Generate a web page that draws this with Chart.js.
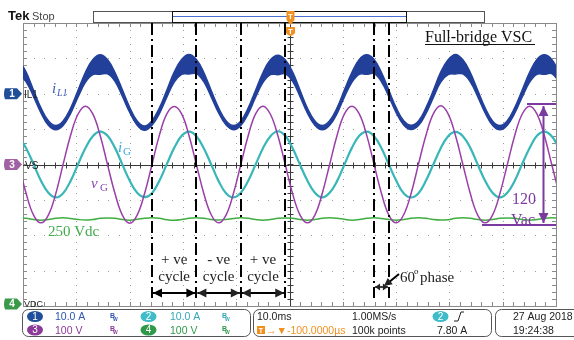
<!DOCTYPE html>
<html>
<head>
<meta charset="utf-8">
<script src="https://cdn.jsdelivr.net/npm/chart.js@4.4.0/dist/chart.umd.min.js"></script>
<style>
  html, body { margin: 0; padding: 0; background: #fff; }
  #wrap { width: 574px; height: 340px; }
</style>
</head>
<body>
<div id="wrap"><canvas id="scope" width="574" height="340"></canvas></div>
<script>
'use strict';

// sample times in ms (screen is -50..50 ms, 10 ms/div), one sample per 30 deg of the 60 Hz grid
var timeMs = [
  -50.80, -49.41, -48.02, -46.63, -45.24, -43.86, -42.47, -41.08, -39.69, -38.30, -36.91, -35.52,
  -34.13, -32.74, -31.36, -29.97, -28.58, -27.19, -25.80, -24.41, -23.02, -21.63, -20.24, -18.86,
  -17.47, -16.08, -14.69, -13.30, -11.91, -10.52, -9.13, -7.74, -6.36, -4.97, -3.58, -2.19,
  -0.80, 0.59, 1.98, 3.37, 4.76, 6.14, 7.53, 8.92, 10.31, 11.70, 13.09, 14.48,
  15.87, 17.26, 18.64, 20.03, 21.42, 22.81, 24.20, 25.59, 26.98, 28.37, 29.76, 31.14,
  32.53, 33.92, 35.31, 36.70, 38.09, 39.48, 40.87, 42.26, 43.64, 45.03, 46.42, 47.81,
  49.20, 50.59
];

// ch3 grid voltage vG (V)
var vG = [
  0, -82, -143, -165, -143, -83, 1, 82, 142, 165, 143, 82,
  -1, -82, -143, -166, -143, -82, 0, 83, 143, 164, 143, 82,
  0, -82, -142, -165, -143, -82, 0, 82, 143, 165, 142, 82,
  0, -83, -143, -165, -143, -82, 0, 82, 143, 165, 143, 83,
  0, -82, -143, -165, -142, -82, 1, 82, 143, 166, 143, 82,
  0, -82, -143, -165, -143, -82, 0, 82, 142, 165, 143, 82,
  0, -82
];

// ch2 grid current iG (A)
var iG = [
  8.0, 4.6, 0.1, -4.6, -8.0, -9.3, -8.1, -4.7, 0, 4.6, 8.0, 9.3,
  8.1, 4.7, 0, -4.6, -8.0, -9.2, -8.1, -4.6, 0.1, 4.7, 8.1, 9.3,
  8.0, 4.6, 0, -4.7, -8.1, -9.3, -8.0, -4.6, 0, 4.6, 8.0, 9.4,
  8.1, 4.6, -0.1, -4.6, -8.0, -9.3, -8.0, -4.7, 0, 4.7, 8.1, 9.3,
  8.0, 4.6, 0, -4.6, -8.1, -9.3, -8.1, -4.6, 0, 4.6, 8.0, 9.2,
  8.0, 4.7, 0, -4.6, -8.0, -9.3, -8.0, -4.6, 0.1, 4.6, 8.1, 9.3,
  8.0, 4.6
];

// ch1 inductor current iL1 (A): upper and lower edge of the switching ripple band
var iL1Top = [
  9.7, 6.1, 1.0, -4.0, -7.6, -9.0, -7.7, -4.1, 0.9, 6.0, 9.6, 11.0,
  9.6, 6.0, 1.1, -3.9, -7.7, -9.1, -7.6, -4.0, 1.0, 6.1, 9.7, 11.1,
  9.7, 6.0, 0.9, -4.0, -7.6, -9.0, -7.7, -4.0, 1.0, 6.0, 9.6, 10.9,
  9.6, 6.1, 1.0, -4.1, -7.7, -9.0, -7.6, -4.0, 1.1, 6.0, 9.7, 11.0,
  9.7, 6.0, 1.0, -4.0, -7.6, -8.9, -7.7, -4.0, 0.9, 6.1, 9.6, 11.1,
  9.6, 6.0, 1.0, -4.0, -7.7, -9.0, -7.6, -3.9, 1.0, 6.0, 9.7, 11.0,
  9.7, 6.0
];
var iL1Bottom = [
  5.7, 3.4, -0.8, -5.4, -8.9, -10.2, -9.0, -5.6, -1.0, 3.2, 5.4, 5.5,
  5.6, 3.5, -0.7, -5.3, -8.9, -10.3, -8.9, -5.6, -1.0, 3.3, 5.5, 5.6,
  5.7, 3.4, -0.9, -5.4, -8.8, -10.2, -9.0, -5.6, -1.0, 3.2, 5.4, 5.4,
  5.6, 3.5, -0.8, -5.5, -8.9, -10.2, -8.9, -5.6, -0.9, 3.2, 5.5, 5.5,
  5.7, 3.4, -0.8, -5.4, -8.8, -10.1, -9.0, -5.6, -1.1, 3.3, 5.4, 5.6,
  5.6, 3.4, -0.8, -5.4, -8.9, -10.2, -8.9, -5.5, -1.0, 3.2, 5.5, 5.5,
  5.7, 3.4
];

// ch4 dc link voltage (V)
var vDC = [
  249.5, 248, 244.5, 242.5, 244.5, 248, 249.5, 247.5, 244.5, 243, 244.5, 248,
  249, 248, 244.5, 242.5, 245, 248, 249.5, 248, 244, 242.5, 244.5, 248,
  249.5, 248, 244.5, 243, 244.5, 247.5, 249.5, 248, 244.5, 242.5, 244.5, 248,
  249, 248, 244.5, 242.5, 244.5, 248, 249.5, 248, 245, 242.5, 244.5, 248,
  249.5, 247.5, 244.5, 242.5, 244.5, 248, 249.5, 248, 244.5, 243, 244, 248,
  249.5, 248, 244.5, 242.5, 244.5, 248, 249, 248, 244.5, 242.5, 244.5, 248,
  249.5, 248
];

// volts/amps per division and ref position (div from centre)
var ch1 = { perDiv: 10, offset: 2, color: '#22409a' };
var ch2 = { perDiv: 10, offset: 0, color: '#38b6b8' };
var ch3 = { perDiv: 100, offset: 0, color: '#9a3fa8' };
var ch4 = { perDiv: 100, offset: -4, color: '#3fae3f' };

// annotation times (ms): vG zero crossings for the cycle markers, vG / iG falling zeros for the phase
var cycleMarks = [-25.80, -17.47, -9.13, -0.80];
var phaseMarks = [15.87, 18.64];
var cycleLabels = ['+ ve', '- ve', '+ ve'];

function toPoints(values, ch) {
  return values.map(function (v, i) {
    return { x: timeMs[i], y: v / ch.perDiv + ch.offset };
  });
}

var SERIF = '"Liberation Serif", "Times New Roman", serif';
var SANS = '"Liberation Sans", Arial, sans-serif';

function txt(ctx, s, x, y, font, color, align) {
  ctx.font = font;
  ctx.fillStyle = color;
  ctx.textAlign = align || 'left';
  ctx.textBaseline = 'alphabetic';
  ctx.fillText(s, x, y);
}

function arrowHead(ctx, x, y, dx, dy, len, half) {
  var l = Math.sqrt(dx * dx + dy * dy);
  var ux = dx / l, uy = dy / l;
  ctx.beginPath();
  ctx.moveTo(x, y);
  ctx.lineTo(x - ux * len - uy * half, y - uy * len + ux * half);
  ctx.lineTo(x - ux * len + uy * half, y - uy * len - ux * half);
  ctx.closePath();
  ctx.fill();
}

function dblArrow(ctx, x1, y1, x2, y2, len, half) {
  ctx.beginPath();
  ctx.moveTo(x1, y1);
  ctx.lineTo(x2, y2);
  ctx.stroke();
  arrowHead(ctx, x2, y2, x2 - x1, y2 - y1, len, half);
  arrowHead(ctx, x1, y1, x1 - x2, y1 - y2, len, half);
}

function pill(ctx, cx, cy, color, label) {
  ctx.fillStyle = color;
  ctx.beginPath();
  ctx.ellipse(cx, cy, 8, 5.5, 0, 0, Math.PI * 2);
  ctx.fill();
  ctx.font = '10px ' + SANS;
  ctx.fillStyle = '#fff';
  ctx.textAlign = 'center';
  ctx.textBaseline = 'middle';
  ctx.fillText(label, cx, cy + 0.5);
}

function bw(ctx, x, y, color) {
  txt(ctx, 'B', x, y, 'bold 7px ' + SANS, color);
  txt(ctx, 'W', x + 3, y + 3, 'bold 5px ' + SANS, color);
}

function tag(ctx, y, color, label) {
  ctx.fillStyle = color;
  ctx.beginPath();
  ctx.moveTo(5, y - 5.5);
  ctx.lineTo(17, y - 5.5);
  ctx.lineTo(22, y);
  ctx.lineTo(17, y + 5.5);
  ctx.lineTo(5, y + 5.5);
  ctx.quadraticCurveTo(3, y, 5, y - 5.5);
  ctx.fill();
  ctx.font = 'bold 10px ' + SANS;
  ctx.fillStyle = '#fff';
  ctx.textAlign = 'center';
  ctx.textBaseline = 'middle';
  ctx.fillText(label, 12, y + 0.5);
}

var screen = {
  id: 'screen',
  beforeDraw: function (chart) {
    var ctx = chart.ctx, a = chart.chartArea, xs = chart.scales.x, ys = chart.scales.y;
    ctx.save();
    ctx.fillStyle = '#fff';
    ctx.fillRect(0, 0, chart.width, chart.height);

    // header
    txt(ctx, 'Tek', 8, 20, 'bold 13px ' + SANS, '#111');
    txt(ctx, 'Stop', 32, 20, '11px ' + SANS, '#444');
    ctx.strokeStyle = '#555';
    ctx.lineWidth = 1;
    ctx.strokeRect(93.5, 11.5, 391, 11);
    ctx.strokeStyle = '#111';
    ctx.strokeRect(172.5, 11.5, 234, 11);
    ctx.strokeStyle = '#4a6fd0';
    ctx.beginPath();
    ctx.moveTo(173, 16.5);
    ctx.lineTo(406, 16.5);
    ctx.stroke();

    // dotted graticule
    ctx.fillStyle = '#9a9a9a';
    var t, d, px, py;
    for (t = -40; t <= 40; t += 10) {
      px = Math.round(xs.getPixelForValue(t));
      for (d = -4; d <= 4.001; d += 0.2) {
        ctx.fillRect(px, Math.round(ys.getPixelForValue(d)), 1, 1);
      }
    }
    for (d = -3; d <= 3; d += 1) {
      py = Math.round(ys.getPixelForValue(d));
      for (t = -50; t <= 50.001; t += 2) {
        ctx.fillRect(Math.round(xs.getPixelForValue(t)), py, 1, 1);
      }
    }

    // frame and minor ticks
    ctx.strokeStyle = '#8a8a8a';
    ctx.strokeRect(Math.round(a.left) + 0.5, Math.round(a.top) + 0.5, Math.round(a.right - a.left), Math.round(a.bottom - a.top));
    ctx.beginPath();
    for (t = -48; t <= 48.001; t += 2) {
      px = Math.round(xs.getPixelForValue(t)) + 0.5;
      ctx.moveTo(px, a.top); ctx.lineTo(px, a.top + 4);
      ctx.moveTo(px, a.bottom); ctx.lineTo(px, a.bottom - 4);
    }
    for (d = -3.8; d <= 3.801; d += 0.2) {
      py = Math.round(ys.getPixelForValue(d)) + 0.5;
      ctx.moveTo(a.left, py); ctx.lineTo(a.left + 4, py);
      ctx.moveTo(a.right, py); ctx.lineTo(a.right - 4, py);
    }
    ctx.stroke();

    // centre cross
    var cx = Math.round(xs.getPixelForValue(0)) + 0.5;
    var cy = Math.round(ys.getPixelForValue(0)) + 0.5;
    ctx.strokeStyle = '#3a3a3a';
    ctx.beginPath();
    ctx.moveTo(a.left, cy); ctx.lineTo(a.right, cy);
    ctx.moveTo(cx, a.top); ctx.lineTo(cx, a.bottom);
    for (t = -48; t <= 48.001; t += 2) {
      px = Math.round(xs.getPixelForValue(t)) + 0.5;
      ctx.moveTo(px, cy - 3); ctx.lineTo(px, cy + 3);
    }
    for (d = -3.8; d <= 3.801; d += 0.2) {
      py = Math.round(ys.getPixelForValue(d)) + 0.5;
      ctx.moveTo(cx - 3, py); ctx.lineTo(cx + 3, py);
    }
    ctx.stroke();
    ctx.restore();
  },

  afterDatasetsDraw: function (chart) {
    var ctx = chart.ctx, a = chart.chartArea, xs = chart.scales.x, ys = chart.scales.y;
    ctx.save();

    // cycle / phase marker lines
    ctx.strokeStyle = '#000';
    ctx.lineWidth = 2;
    ctx.setLineDash([12, 4, 2, 4]);
    cycleMarks.concat(phaseMarks).forEach(function (t) {
      var x = Math.round(xs.getPixelForValue(t));
      ctx.beginPath();
      ctx.moveTo(x, a.top);
      ctx.lineTo(x, 298);
      ctx.stroke();
    });
    ctx.setLineDash([]);

    ctx.fillStyle = '#000';
    for (var i = 0; i < cycleMarks.length - 1; i++) {
      var x1 = xs.getPixelForValue(cycleMarks[i]);
      var x2 = xs.getPixelForValue(cycleMarks[i + 1]);
      ctx.lineWidth = 2;
      dblArrow(ctx, x1 + 1, 293, x2 - 1, 293, 9, 4.5);
      var mid = (x1 + x2) / 2;
      txt(ctx, cycleLabels[i], mid, 264, '15px ' + SERIF, '#222', 'center');
      txt(ctx, 'cycle', mid, 281, '15px ' + SERIF, '#222', 'center');
    }
    var p1 = xs.getPixelForValue(phaseMarks[0]);
    var p2 = xs.getPixelForValue(phaseMarks[1]);
    ctx.lineWidth = 1.5;
    dblArrow(ctx, p1 + 1, 287, p2 - 1, 287, 5, 3.5);
    ctx.lineWidth = 2;
    ctx.beginPath();
    ctx.moveTo(399, 274);
    ctx.lineTo(388, 283);
    ctx.stroke();
    arrowHead(ctx, 384, 286, -15, 12, 8, 4);
    txt(ctx, '60', 400, 282, '15px ' + SERIF, '#222');
    txt(ctx, 'o', 414, 274, '9px ' + SERIF, '#222');
    txt(ctx, 'phase', 420, 282, '15px ' + SERIF, '#222');

    // 120 Vac span
    ctx.strokeStyle = '#7a3aa0';
    ctx.fillStyle = '#7a3aa0';
    ctx.lineWidth = 2;
    ctx.beginPath();
    ctx.moveTo(527, 104); ctx.lineTo(556, 104);
    ctx.moveTo(482, 225); ctx.lineTo(556, 225);
    ctx.stroke();
    dblArrow(ctx, 543.5, 106, 543.5, 223, 10, 5);
    txt(ctx, '120', 512, 204, '16px ' + SERIF, '#7a3aa0');
    txt(ctx, 'Vac', 511, 225, '16px ' + SERIF, '#7a3aa0');

    // trace names
    txt(ctx, 'Full-bridge VSC', 425, 42, '16px ' + SERIF, '#111');
    ctx.fillStyle = '#111';
    ctx.fillRect(425, 44, 110, 1);
    txt(ctx, 'i', 52, 93, 'italic 15px ' + SERIF, '#3a5cb8');
    txt(ctx, 'L1', 57, 96, 'italic 10px ' + SERIF, '#3a5cb8');
    txt(ctx, 'i', 118, 152, 'italic 15px ' + SERIF, '#39a9d8');
    txt(ctx, 'G', 123, 155, '11px ' + SERIF, '#39a9d8');
    txt(ctx, 'v', 91, 188, 'italic 15px ' + SERIF, '#8a44b0');
    txt(ctx, 'G', 100, 191, '11px ' + SERIF, '#8a44b0');
    txt(ctx, '250 Vdc', 48, 236, '15px ' + SERIF, '#3faa4a');

    // trigger marks
    var tx = Math.round(xs.getPixelForValue(0)) + 0.5;
    ctx.fillStyle = '#f0901e';
    ctx.beginPath();
    ctx.moveTo(tx - 4, 11); ctx.lineTo(tx + 4, 11); ctx.lineTo(tx + 4, 20);
    ctx.lineTo(tx, 25); ctx.lineTo(tx - 4, 20); ctx.closePath();
    ctx.fill();
    ctx.beginPath();
    ctx.moveTo(tx - 4.5, 27); ctx.lineTo(tx + 4.5, 27); ctx.lineTo(tx + 4.5, 33);
    ctx.quadraticCurveTo(tx, 39, tx - 4.5, 33); ctx.closePath();
    ctx.fill();
    txt(ctx, 'T', tx, 19, 'bold 8px ' + SANS, '#fff', 'center');
    txt(ctx, 'T', tx, 34, 'bold 8px ' + SANS, '#fff', 'center');

    // channel ref tags
    var y1 = ys.getPixelForValue(ch1.offset);
    var y3 = ys.getPixelForValue(ch3.offset);
    var y4 = ys.getPixelForValue(ch4.offset) - 2;
    tag(ctx, y1, '#1f4e9a', '1');
    tag(ctx, y3, '#a062a4', '3');
    tag(ctx, y4, '#3a9a4a', '4');
    txt(ctx, 'IL1', 24, y1 + 4, '10px ' + SANS, '#222');
    txt(ctx, 'VS', 25, y3 + 4, '10px ' + SANS, '#222');
    txt(ctx, 'VDC', 24, y4 + 3, '9px ' + SANS, '#222');

    // status boxes
    ctx.strokeStyle = '#555';
    ctx.lineWidth = 1;
    [[22.5, 309.5, 228, 27], [253.5, 309.5, 238, 27], [495.5, 309.5, 90, 27]].forEach(function (b) {
      ctx.beginPath();
      ctx.roundRect(b[0], b[1], b[2], b[3], 6);
      ctx.stroke();
    });
    pill(ctx, 35, 316.5, '#1f4e9a', '1');
    pill(ctx, 148.5, 316.5, '#40bcc8', '2');
    pill(ctx, 35, 330, '#8b3a98', '3');
    pill(ctx, 148.5, 330, '#2e9a48', '4');
    txt(ctx, '10.0 A', 55, 320, '10.5px ' + SANS, '#2f55b0');
    txt(ctx, '10.0 A', 170, 320, '10.5px ' + SANS, '#35a8b8');
    txt(ctx, '100 V', 55, 334, '10.5px ' + SANS, '#8b3a98');
    txt(ctx, '100 V', 170, 334, '10.5px ' + SANS, '#2e9a48');
    bw(ctx, 110, 318, '#2f55b0');
    bw(ctx, 222, 318, '#35a8b8');
    bw(ctx, 110, 331, '#8b3a98');
    bw(ctx, 222, 331, '#2e9a48');

    txt(ctx, '10.0ms', 257, 320, '10.5px ' + SANS, '#222');
    txt(ctx, '1.00MS/s', 352, 320, '10.5px ' + SANS, '#222');
    txt(ctx, '100k points', 352, 334, '10.5px ' + SANS, '#222');
    ctx.fillStyle = '#f0901e';
    ctx.fillRect(257, 326, 8, 8);
    txt(ctx, 'T', 261, 333, 'bold 7px ' + SANS, '#fff', 'center');
    txt(ctx, '\u2192\u25BC-100.0000\u00B5s', 266, 334, '10.5px ' + SANS, '#f0901e');
    pill(ctx, 440.5, 316.5, '#40bcc8', '2');
    ctx.strokeStyle = '#222';
    ctx.beginPath();
    ctx.moveTo(454, 321); ctx.lineTo(458, 321); ctx.lineTo(461, 312); ctx.lineTo(464, 312);
    ctx.stroke();
    txt(ctx, '7.80 A', 437, 334, '10.5px ' + SANS, '#222');
    txt(ctx, '27 Aug 2018', 513, 320, '10.5px ' + SANS, '#222');
    txt(ctx, '19:24:38', 513, 334, '10.5px ' + SANS, '#222');

    ctx.restore();
  }
};

new Chart(document.getElementById('scope').getContext('2d'), {
  type: 'line',
  data: {
    datasets: [
      { label: 'iL1 top', data: toPoints(iL1Top, ch1), borderColor: ch1.color, borderWidth: 1.5, fill: false, order: 1 },
      { label: 'iL1 bottom', data: toPoints(iL1Bottom, ch1), borderColor: ch1.color, backgroundColor: ch1.color, borderWidth: 1.5, fill: '-1', order: 1 },
      { label: 'vG', data: toPoints(vG, ch3), borderColor: ch3.color, borderWidth: 1.5, fill: false, order: 2 },
      { label: 'iG', data: toPoints(iG, ch2), borderColor: ch2.color, borderWidth: 2.2, fill: false, order: 3 },
      { label: 'Vdc', data: toPoints(vDC, ch4), borderColor: ch4.color, borderWidth: 1.5, fill: false, order: 4 }
    ]
  },
  options: {
    responsive: false,
    animation: false,
    layout: { padding: { left: 23, right: 18, top: 23, bottom: 34 } },
    elements: { point: { radius: 0 }, line: { tension: 0.4 } },
    scales: {
      x: { type: 'linear', min: -50, max: 50, display: false },
      y: { min: -4, max: 4, display: false }
    },
    plugins: {
      legend: { display: false },
      tooltip: { enabled: false }
    }
  },
  plugins: [screen]
});
</script>
</body>
</html>
